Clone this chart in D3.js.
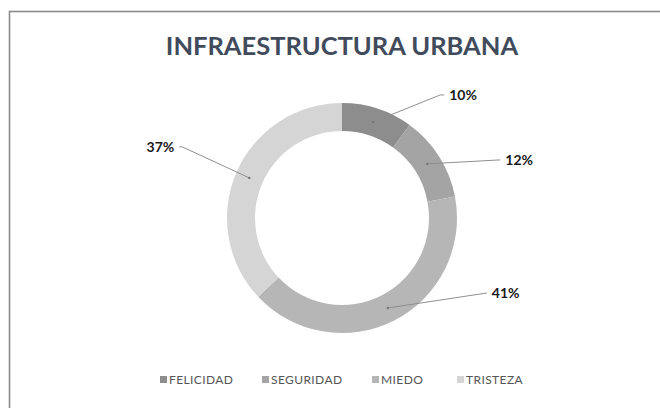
<!DOCTYPE html>
<html>
<head>
<meta charset="utf-8">
<script src="https://cdn.jsdelivr.net/npm/d3@7"></script>
<style>
  body { margin: 0; background: #fff; }
  svg { display: block; }
</style>
</head>
<body>
<svg id="svg1" width="660" height="408"></svg>
<script>
// data
var categories = ["FELICIDAD", "SEGURIDAD", "MIEDO", "TRISTEZA"];
var values = [10, 12, 41, 37];
var labels = ["10%", "12%", "41%", "37%"];
var colors = ["#8d8d8d", "#a4a4a4", "#b6b6b6", "#d5d5d5"];

// where each label sits, relative to the slice centroid (layout only)
var labelOffset = [{dx: 67, dy: -27, side: 1, tail: 4},
                   {dx: 73, dy: -4, side: 1, tail: 0},
                   {dx: 99, dy: -15, side: 1, tail: 0},
                   {dx: -67, dy: -31, side: -1, tail: 3}];

var svg = d3.select("#svg1");
    width = +svg.attr("width");
    height = +svg.attr("height");

// frame (continues past right/bottom edge)
svg.append("rect")
  .attr("x", 9.5).attr("y", 11.5)
  .attr("width", 800).attr("height", 600)
  .attr("fill", "#fff")
  .attr("stroke", "#8a8a8a")
  .attr("stroke-width", 1.6);

svg.append("text")
  .text("INFRAESTRUCTURA URBANA")
  .attr("x", 342).attr("y", 55)
  .attr("text-anchor", "middle")
  .attr("font-family", "Lato, 'Open Sans', sans-serif")
  .attr("font-weight", "bold")
  .attr("font-size", "25.5px")
  .attr("fill", "#414b5c");

var cx = 342, cy = 218;
var pie = d3.pie().sort(null).value(function(d) { return d; });
var arc = d3.arc().innerRadius(87).outerRadius(115);
var mid = d3.arc().innerRadius(101).outerRadius(101);

var g = svg.append("g").attr("transform", "translate(" + cx + "," + cy + ")");
var arcs = pie(values);

g.selectAll("path.slice")
  .data(arcs)
  .enter().append("path")
    .attr("class", "slice")
    .attr("d", arc)
    .attr("fill", function(d, i) { return colors[i]; });

// leader lines + labels
arcs.forEach(function(d, i) {
  var c = mid.centroid(d);
  var o = labelOffset[i];
  var ex = c[0] + o.dx, ey = c[1] + o.dy;
  var tx = ex + o.side * o.tail;
  g.append("polyline")
    .attr("points", [c, [ex, ey], [tx, ey]].map(function(p) { return p.join(","); }).join(" "))
    .attr("fill", "none")
    .attr("stroke", "#8f8f8f")
    .attr("stroke-width", 1);
  g.append("circle").attr("cx", c[0]).attr("cy", c[1]).attr("r", 1.2).attr("fill", "#777");
  g.append("text")
    .text(labels[i])
    .attr("x", tx + o.side * 5)
    .attr("y", ey + 5)
    .attr("text-anchor", o.side > 0 ? "start" : "end")
    .attr("font-family", "Lato, 'Open Sans', sans-serif")
    .attr("font-weight", "bold")
    .attr("font-size", "14px")
    .attr("fill", "#1a1a1a");
});

// legend
var legendX = [160, 262, 372, 457];
var legend = svg.selectAll(".legend")
  .data(categories)
  .enter().append("g")
    .attr("class", "legend")
    .attr("transform", function(d, i) { return "translate(" + legendX[i] + ",384)"; });

legend.append("rect")
  .attr("x", 0).attr("y", -8)
  .attr("width", 7).attr("height", 7)
  .attr("fill", function(d, i) { return colors[i]; });

legend.append("text")
  .attr("x", 9).attr("y", 0)
  .text(function(d) { return d; })
  .attr("font-family", "Lato, 'Open Sans', sans-serif")
  .attr("font-size", "12px")
  .attr("letter-spacing", "0.4px")
  .attr("fill", "#555");
</script>
</body>
</html>
